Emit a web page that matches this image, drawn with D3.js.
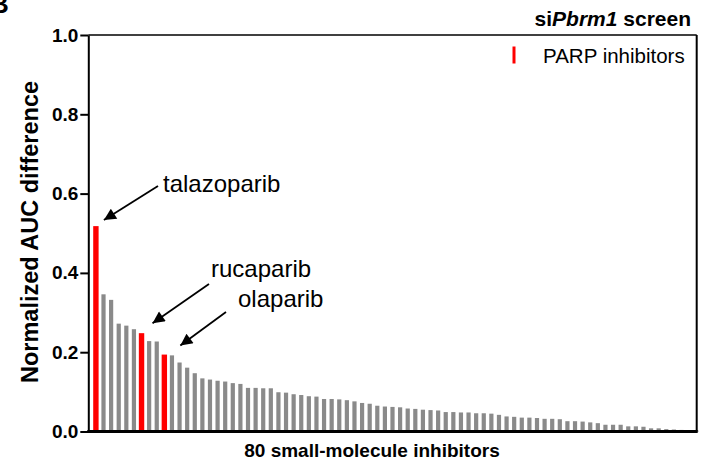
<!DOCTYPE html>
<html>
<head>
<meta charset="utf-8">
<script src="https://cdn.jsdelivr.net/npm/d3@7"></script>
<style>
  html, body { margin: 0; padding: 0; background: #fff; }
  svg { display: block; font-family: "Liberation Sans", Arial, Helvetica, sans-serif; }
</style>
</head>
<body>
<svg id="chart" width="706" height="465"></svg>
<script>
// ---- data ----
const values = [
  0.518, 0.346, 0.332, 0.272, 0.267, 0.258, 0.248, 0.228, 0.227, 0.194,
  0.192, 0.174, 0.161, 0.147, 0.134, 0.131, 0.128, 0.126, 0.122, 0.120,
  0.110, 0.110, 0.109, 0.109, 0.099, 0.098, 0.094, 0.092, 0.089, 0.088,
  0.082, 0.082, 0.081, 0.079, 0.076, 0.072, 0.070, 0.065, 0.063, 0.062,
  0.061, 0.058, 0.057, 0.055, 0.054, 0.053, 0.049, 0.049, 0.048, 0.048,
  0.046, 0.046, 0.045, 0.042, 0.038, 0.037, 0.035, 0.035, 0.034, 0.032,
  0.032, 0.031, 0.026, 0.026, 0.025, 0.023, 0.021, 0.017, 0.017, 0.017,
  0.013, 0.013, 0.012, 0.008, 0.008, 0.006, 0.005, 0.004, 0.003, 0.002
];
const parpRanks = [1, 7, 10];                       // ranks of PARP inhibitors
const parpNames = ["talazoparib", "rucaparib", "olaparib"];
const yTicks = [0.0, 0.2, 0.4, 0.6, 0.8, 1.0];
const xLabel = "80 small-molecule inhibitors";
const yLabel = "Normalized AUC difference";
const legendLabel = "PARP inhibitors";

// ---- layout ----
const svg = d3.select("#chart");
const x = d3.scaleLinear().domain([0, values.length]).range([88.3, 696.7]);
const y = d3.scaleLinear().domain([0, 1]).range([431.5, 35]);
const red = "#ff0000", gray = "#8a8a8a";

// bars
const data = values.map((v, i) => ({rank: i + 1, v, parp: parpRanks.includes(i + 1)}));
svg.append("g").selectAll("rect").data(data).join("rect")
  .attr("x", d => x(d.rank) - (d.parp ? 2.7 : 2.1))
  .attr("width", d => d.parp ? 5.4 : 4.2)
  .attr("y", d => y(d.v))
  .attr("height", d => y(0) - y(d.v))
  .attr("fill", d => d.parp ? red : gray);

// frame: top and right border
svg.append("line").attr("x1", x(0)).attr("x2", x(values.length)).attr("y1", y(1)).attr("y2", y(1))
  .attr("stroke", "#000").attr("stroke-width", 1.6);
svg.append("line").attr("x1", x(values.length)).attr("x2", x(values.length)).attr("y1", y(1)).attr("y2", y(0))
  .attr("stroke", "#000").attr("stroke-width", 2);

// y axis
const yAxis = svg.append("g").attr("transform", `translate(${x(0)},0)`)
  .call(d3.axisLeft(y).tickValues(yTicks).tickFormat(d3.format(".1f")).tickSize(8).tickSizeOuter(0).tickPadding(2));
yAxis.select(".domain").attr("stroke", "#000").attr("stroke-width", 2);
yAxis.selectAll(".tick line").attr("stroke", "#000").attr("stroke-width", 2);
yAxis.selectAll(".tick text").attr("font-size", 19).attr("font-weight", "bold").attr("fill", "#000")
  .attr("font-family", "Liberation Sans, Arial, sans-serif");

// x axis baseline
svg.append("line").attr("x1", x(0) - 1).attr("x2", x(values.length) + 1).attr("y1", y(0)).attr("y2", y(0))
  .attr("stroke", "#000").attr("stroke-width", 3);

// axis titles
svg.append("text").attr("x", 372).attr("y", 457).attr("text-anchor", "middle")
  .attr("font-size", 19).attr("font-weight", "bold").text(xLabel);
svg.append("text").attr("transform", "translate(38,232) rotate(-90)").attr("text-anchor", "middle")
  .attr("font-size", 23.5).attr("font-weight", "bold").text(yLabel);

// panel title
const t = svg.append("text").attr("x", 691).attr("y", 26).attr("text-anchor", "end")
  .attr("font-size", 21).attr("font-weight", "bold");
t.append("tspan").text("si");
t.append("tspan").attr("font-style", "italic").text("Pbrm1");
t.append("tspan").text(" screen");

// partial panel letter (cut off at the top-left)
svg.append("text").attr("x", -10).attr("y", 13).attr("font-size", 26).attr("font-weight", "bold").text("B");

// legend
svg.append("line").attr("x1", 514).attr("x2", 514).attr("y1", 46.5).attr("y2", 63.5)
  .attr("stroke", red).attr("stroke-width", 3);
svg.append("text").attr("x", 543).attr("y", 63).attr("font-size", 20.5).text(legendLabel);

// annotations
svg.append("defs").append("marker").attr("id", "ah").attr("viewBox", "0 0 10 10")
  .attr("refX", 10).attr("refY", 5).attr("markerWidth", 14).attr("markerHeight", 12)
  .attr("markerUnits", "userSpaceOnUse").attr("orient", "auto")
  .append("path").attr("d", "M0,0 L10,5 L0,10 Z").attr("fill", "#000");

const ann = [
  {name: parpNames[0], rank: parpRanks[0], dx: 8,  dy: -6,  sx: 158, sy: 186, tx: 163, ty: 192},
  {name: parpNames[1], rank: parpRanks[1], dx: 11, dy: -10, sx: 209, sy: 284, tx: 211, ty: 277},
  {name: parpNames[2], rank: parpRanks[2], dx: 16, dy: -9,  sx: 226, sy: 312, tx: 238, ty: 307}
];
ann.forEach(a => {
  const tipX = x(a.rank) + a.dx, tipY = y(values[a.rank - 1]) + a.dy;
  svg.append("line").attr("x1", a.sx).attr("y1", a.sy).attr("x2", tipX).attr("y2", tipY)
    .attr("stroke", "#000").attr("stroke-width", 1.8).attr("marker-end", "url(#ah)");
  svg.append("text").attr("x", a.tx).attr("y", a.ty).attr("font-size", 24).text(a.name);
});
</script>
</body>
</html>
